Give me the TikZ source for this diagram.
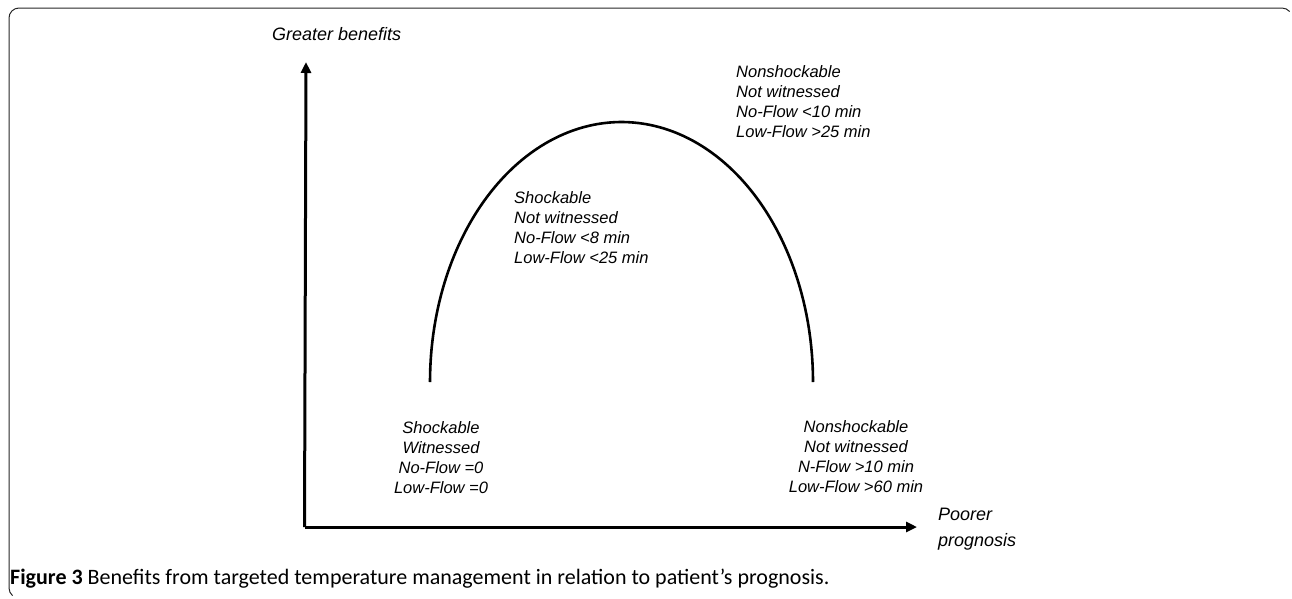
\documentclass[tikz,border=0pt]{standalone}
\usepackage{fontspec}
\setmainfont{Liberation Sans}
\newfontfamily\capfont{Carlito}
\usetikzlibrary{arrows.meta}
\begin{document}
\begin{tikzpicture}[x=1pt,y=-1pt,
  axis/.style={line width=3pt,-{Triangle[length=11pt,width=10pt]}},
  lbl/.style={font=\fontsize{16.5}{20}\selectfont\itshape,inner sep=0pt},
  axlbl/.style={font=\fontsize{18}{26}\selectfont\itshape,inner sep=0pt,align=left},
  frame/.style={line width=1pt,draw=black!85}]
\useasboundingbox (0,0) rectangle (1292,598);
% frame
\draw[frame] (9,588) -- (9,18) arc[start angle=180,end angle=90,radius=10pt] -- (1282,8) arc[start angle=90,end angle=40,radius=10pt];
\draw[frame] (9,588) arc[start angle=180,end angle=230,radius=10pt];
% axes
\coordinate (o) at (306,527);
\coordinate (ytip) at (306,62);
\coordinate (xtip) at (917,527);
\draw[axis] ([xshift=-1.5pt]o) -- (ytip);
\draw[axis] ([xshift=-1.5pt]o) -- (xtip);
% curve
\draw[line width=2.6pt] plot[domain=180:360,samples=120] ({621.5+191.5*cos(\x)},{382+260*sin(\x)});
% labels (base anchor = baseline of last line)
\node[axlbl,anchor=base west] (gb) at (272,40) {Greater benefits};
\node[axlbl,anchor=base west] (pp) at (938,546) {Poorer\\prognosis};
\node[lbl,anchor=base west,align=left] (ul) at (514,263) {Shockable\\Not witnessed\\No-Flow {<}8 min\\Low-Flow {<}25 min};
\node[lbl,anchor=base west,align=left] (ur) at (736,137) {Nonshockable\\Not witnessed\\No-Flow {<}10 min\\Low-Flow {>}25 min};
\node[lbl,anchor=base,align=center] (bl) at (441,493) {Shockable\\Witnessed\\No-Flow =0\\Low-Flow =0};
\node[lbl,anchor=base,align=center] (br) at (856,492) {Nonshockable\\Not witnessed\\N-Flow {>}10 min\\Low-Flow {>}60 min};
% caption
\node[anchor=base west,inner sep=0pt,font=\capfont\fontsize{22}{24}\selectfont] (cap) at (10,584) {\textbf{Figure 3} Benefits from targeted temperature management in relation to patient’s prognosis.};
\end{tikzpicture}
\end{document}
